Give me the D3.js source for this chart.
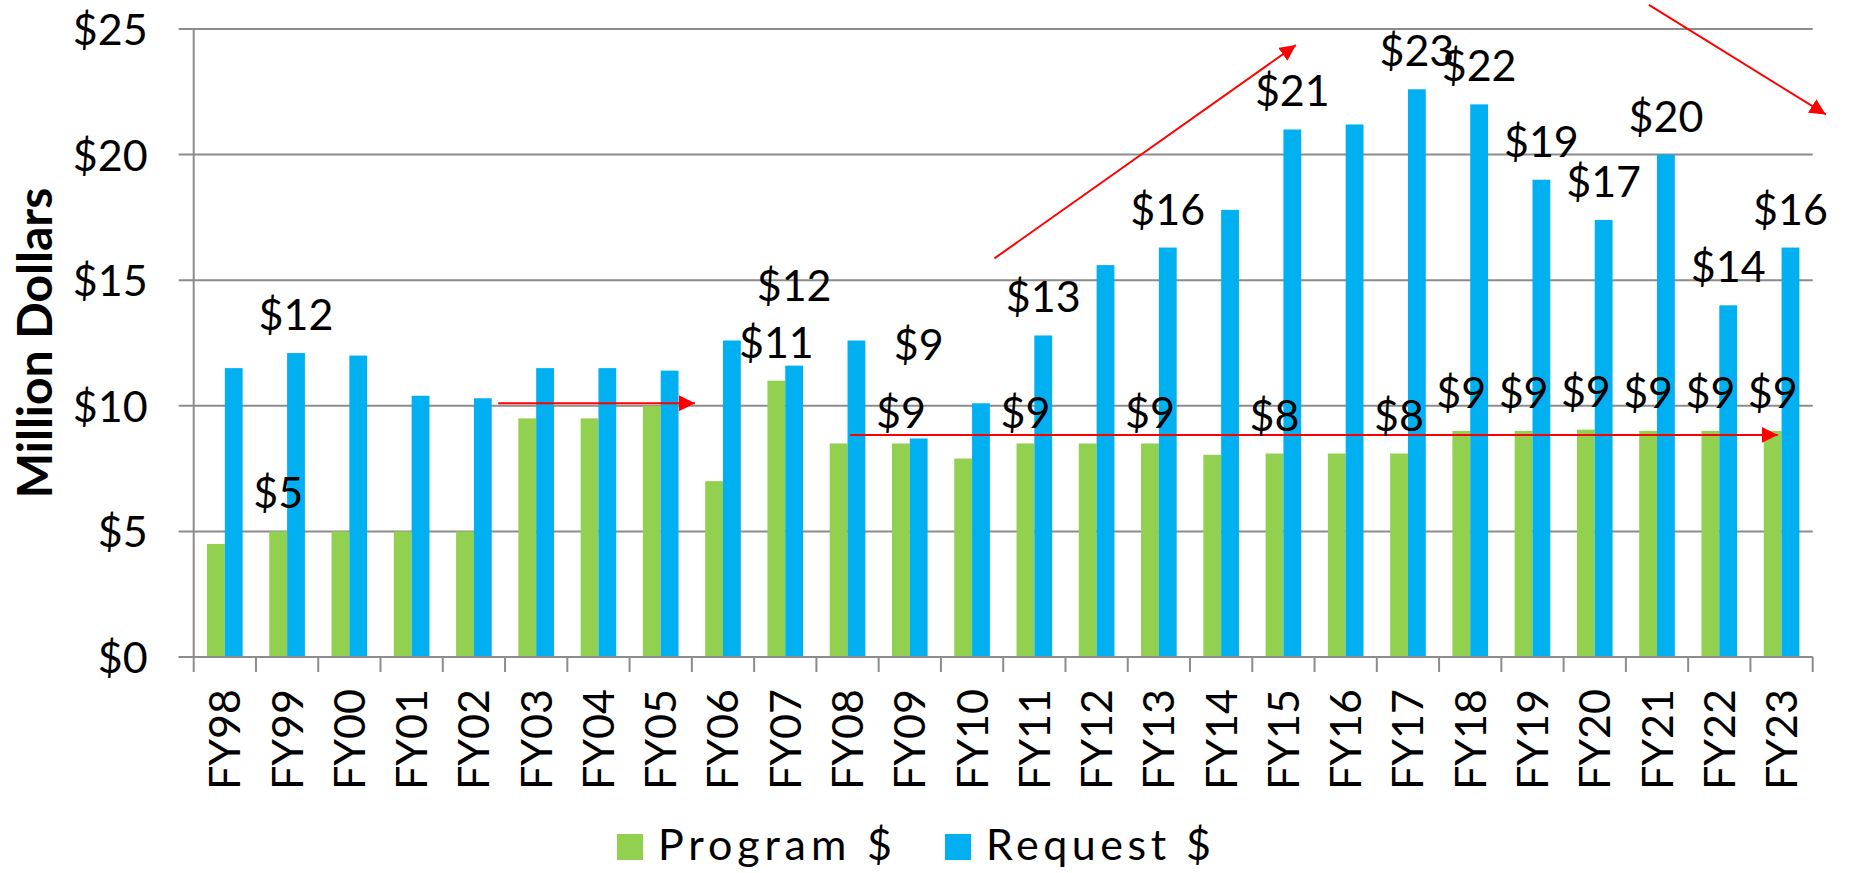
<!DOCTYPE html>
<html>
<head>
<meta charset="utf-8">
<script src="https://cdn.jsdelivr.net/npm/d3@7"></script>
<style>
  html, body { margin: 0; padding: 0; background: #fff; }
  svg { display: block; }
  text { font-family: Lato, "Open Sans", sans-serif; fill: #000; }
</style>
</head>
<body>
<svg id="chart" width="1850" height="873"></svg>
<script>
// ---------------- data ----------------
const categories = ['FY98','FY99','FY00','FY01','FY02','FY03','FY04','FY05','FY06','FY07','FY08','FY09','FY10',
  'FY11','FY12','FY13','FY14','FY15','FY16','FY17','FY18','FY19','FY20','FY21','FY22','FY23'];
const programValues = [4.5,5,5,5,5,9.5,9.5,10,7,11,8.5,8.5,7.9,8.5,8.5,8.5,8.05,8.1,8.1,8.1,9,9,9.05,9,9,9];
const requestValues = [11.5,12.1,12,10.4,10.3,11.5,11.5,11.4,12.6,11.6,12.6,8.7,10.1,12.8,15.6,16.3,17.8,21,21.2,22.6,22,19,17.4,20,14,16.3];
const seriesNames = ['Program $','Request $'];
const yTickValues = [0,5,10,15,20,25];
const yAxisTitle = 'Million Dollars';

// which bars carry a data label, and extra lift (in $) for the manually moved ones
const programLabelYears = ['FY99','FY07','FY09','FY11','FY13','FY15','FY17','FY18','FY19','FY20','FY21','FY22','FY23'];
const requestLabelYears = ['FY99','FY07','FY09','FY11','FY13','FY15','FY17','FY18','FY19','FY20','FY21','FY22','FY23'];
const programLabelLift = {FY09:-0.3, FY11:-0.3, FY13:-0.3};
const requestLabelLift = {FY07:1.67, FY09:2.22};

// red trend arrows: [category position, $ value] -> [category position, $ value]
const trendArrowFrom = [[4.89,10.1],[10.54,8.84],[12.86,15.87],[23.37,25.96]];
const trendArrowTo   = [[8.05,10.1],[25.44,8.84],[17.70,24.36],[26.21,21.6]];

// ---------------- layout ----------------
const W = 1850, H = 873;
const margin = {left: 193.7, right: 37.3, top: 29, bottom: 216};
const x0 = margin.left, x1 = W - margin.right, yTop = margin.top, yBot = H - margin.bottom;
const colors = {'Program $': '#92D050', 'Request $': '#00B0F0'};
const gridColor = '#8C8C8C';
const fontSize = 43;

const svg = d3.select('#chart');

const x = d3.scaleBand().domain(categories).range([x0, x1]).paddingInner(0).paddingOuter(0);
const bw = x.bandwidth();
const xs = d3.scaleBand().domain(seriesNames).range([bw * 0.214, bw * 0.786]).padding(0);
const xPos = d3.scaleLinear().domain([0, categories.length]).range([x0, x1]);
const y = d3.scaleLinear().domain([0, 25]).range([yBot, yTop]);

// gridlines (with outward tick on the left)
svg.append('g').selectAll('line').data(yTickValues).join('line')
  .attr('x1', x0 - 15).attr('x2', x1)
  .attr('y1', d => y(d)).attr('y2', d => y(d))
  .attr('stroke', gridColor).attr('stroke-width', 2);

// y axis labels
const yAxis = d3.axisLeft(y).tickValues(yTickValues).tickSize(0).tickPadding(46).tickFormat(d => '$' + d);
const gy = svg.append('g').attr('transform', `translate(${x0},0)`).call(yAxis);
gy.select('.domain').remove();
gy.selectAll('text').attr('font-size', fontSize).attr('font-family', 'Lato').attr('dy', '0.36em').attr('fill', '#000');

// y axis line
svg.append('line').attr('x1', x0).attr('x2', x0).attr('y1', yTop).attr('y2', yBot)
  .attr('stroke', gridColor).attr('stroke-width', 2);

// bars
const rows = categories.map((c, i) => ({cat: c, vals: [
  {s: 'Program $', v: programValues[i]}, {s: 'Request $', v: requestValues[i]}]}));
const groups = svg.append('g').selectAll('g').data(rows).join('g')
  .attr('transform', d => `translate(${x(d.cat)},0)`);
groups.selectAll('rect').data(d => d.vals).join('rect')
  .attr('x', d => xs(d.s)).attr('width', xs.bandwidth())
  .attr('y', d => y(d.v)).attr('height', d => y(0) - y(d.v))
  .attr('fill', d => colors[d.s]);

// x axis line and ticks at band boundaries
svg.append('line').attr('x1', x0 - 15).attr('x2', x1).attr('y1', yBot).attr('y2', yBot)
  .attr('stroke', gridColor).attr('stroke-width', 2);
svg.append('g').selectAll('line').data(d3.range(categories.length + 1)).join('line')
  .attr('x1', d => xPos(d)).attr('x2', d => xPos(d))
  .attr('y1', yBot).attr('y2', yBot + 15)
  .attr('stroke', gridColor).attr('stroke-width', 2);

// x tick labels (rotated)
svg.append('g').selectAll('text').data(categories).join('text')
  .attr('transform', d => `translate(${x(d) + bw / 2},${yBot + 32}) rotate(-90)`)
  .attr('text-anchor', 'end').attr('dy', '0.36em')
  .attr('font-size', fontSize).text(d => d);

// y axis title
svg.append('text')
  .attr('transform', `translate(51.7,${(yTop + yBot) / 2}) rotate(-90)`)
  .attr('text-anchor', 'middle').attr('font-weight', 'bold').attr('font-size', 48)
  .text(yAxisTitle);

// arrows
const defs = svg.append('defs');
defs.append('marker').attr('id', 'arrowhead').attr('viewBox', '0 0 16 16')
  .attr('refX', 16).attr('refY', 8).attr('markerWidth', 16).attr('markerHeight', 16)
  .attr('markerUnits', 'userSpaceOnUse').attr('orient', 'auto')
  .append('path').attr('d', 'M0,0 L16,8 L0,16 Z').attr('fill', '#FF0000');
svg.append('g').selectAll('line').data(d3.range(trendArrowFrom.length)).join('line')
  .attr('x1', i => xPos(trendArrowFrom[i][0])).attr('y1', i => y(trendArrowFrom[i][1]))
  .attr('x2', i => xPos(trendArrowTo[i][0])).attr('y2', i => y(trendArrowTo[i][1]))
  .attr('stroke', '#FF0000').attr('stroke-width', 2).attr('marker-end', 'url(#arrowhead)');

// data labels
const labelGap = 23;
const labelData = [];
programLabelYears.forEach(c => {
  const i = categories.indexOf(c);
  labelData.push({cat: c, s: 'Program $', v: programValues[i], lift: programLabelLift[c] || 0});
});
requestLabelYears.forEach(c => {
  const i = categories.indexOf(c);
  labelData.push({cat: c, s: 'Request $', v: requestValues[i], lift: requestLabelLift[c] || 0});
});
svg.append('g').selectAll('text').data(labelData).join('text')
  .attr('x', d => x(d.cat) + xs(d.s) + xs.bandwidth() / 2)
  .attr('y', d => y(d.v + d.lift) - labelGap)
  .attr('text-anchor', 'middle').attr('font-size', fontSize)
  .text(d => '$' + Math.round(d.v));

// legend
const legendX = [617, 945];
const legendTextWidth = [234, 225];
const lg = svg.append('g').selectAll('g').data(seriesNames).join('g')
  .attr('transform', (d, i) => `translate(${legendX[i]},834)`);
lg.append('rect').attr('width', 26).attr('height', 26).attr('fill', d => colors[d]);
lg.append('text').attr('x', 41).attr('y', 25.5).attr('font-size', fontSize)
  .attr('textLength', (d, i) => legendTextWidth[i]).attr('lengthAdjust', 'spacing')
  .text(d => d);
</script>
</body>
</html>
